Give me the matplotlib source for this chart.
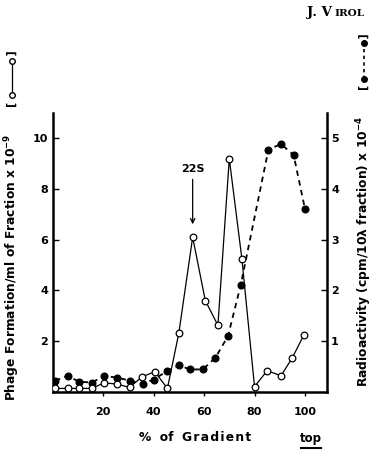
import numpy as np
import matplotlib
matplotlib.use('Agg')
import matplotlib.pyplot as plt
from matplotlib.lines import Line2D

# phage formation (open circles, left axis, x 10^-9)
x_phage = [1, 6, 10.5, 15.5, 20.5, 25.5, 30.5, 35.5, 40.5, 45.5, 50, 55.5, 60.5, 65.5, 70, 75, 80, 85, 90.5, 95, 99.5]
phage = [0.13, 0.13, 0.13, 0.13, 0.35, 0.3, 0.17, 0.59, 0.79, 0.13, 2.3, 6.1, 3.6, 2.62, 9.2, 5.24, 0.2, 0.83, 0.63, 1.35, 2.23]

# radioactivity (filled circles, right axis, x 10^-4)
x_radio = [1, 6, 10.5, 15.5, 20.5, 25.5, 30.5, 36, 40, 45.5, 50, 54.5, 59.5, 64.5, 69.5, 74.5, 85.5, 90.5, 95.5, 100]
radio = [0.22, 0.31, 0.2, 0.18, 0.31, 0.28, 0.22, 0.16, 0.24, 0.41, 0.52, 0.44, 0.44, 0.67, 1.1, 2.1, 4.78, 4.89, 4.67, 3.6]

left_ticks = [2, 4, 6, 8, 10]
right_ticks = [1, 2, 3, 4, 5]
x_ticks = [20, 40, 60, 80, 100]

fig = plt.figure(figsize=(3.73, 4.53), dpi=100)
ax = fig.add_axes([0.1408, 0.1353, 0.7359, 0.615])
ax2 = ax.twinx()

ax2.plot(x_radio, radio, color='black', ls=(0, (3, 2.5)), lw=1.3,
         marker='o', ms=4.8, mfc='black', mec='black')
ax.plot(x_phage, phage, color='black', lw=0.9,
        marker='o', ms=4.8, mfc='white', mec='black', mew=0.9, zorder=5)
ax.set_zorder(ax2.get_zorder() + 1)
ax.patch.set_visible(False)

ax.set_xlim(0, 108.7)
ax.set_ylim(0, 11)
ax2.set_ylim(0, 5.5)

for a in (ax, ax2):
    a.spines['top'].set_visible(False)
    for s in a.spines.values():
        s.set_linewidth(1.8)
ax.spines['right'].set_visible(False)
ax2.spines['left'].set_visible(False)
ax2.spines['bottom'].set_visible(False)

ax.set_xticks(x_ticks)
ax.set_yticks(left_ticks)
ax2.set_yticks(right_ticks)
ax.tick_params(axis='x', direction='out', length=3, width=1, labelsize=8, pad=8)
ax.tick_params(axis='y', direction='in', length=4, width=1, labelsize=8, pad=3)
ax2.tick_params(axis='y', direction='in', length=4, width=1, labelsize=8, pad=3)
for lab in ax.get_xticklabels() + ax.get_yticklabels() + ax2.get_yticklabels():
    lab.set_fontweight('bold')

# 22S annotation
ax.annotate('22S', xy=(55.5, 6.5), xytext=(55.5, 8.8), ha='center', va='center',
            fontsize=8, fontweight='bold',
            arrowprops=dict(arrowstyle='->', color='black', lw=0.9))

# axis labels
hs = '\u200a'
fig.text(0.523, 0.035, '%  of  ' + hs.join('Gradient'), ha='center', va='center',
         fontsize=8.8, fontweight='bold')
fig.text(0.834, 0.033, 'top', ha='center', va='center', fontsize=8.5, fontweight='bold')
fig.add_artist(Line2D([0.808, 0.86], [0.011, 0.011], color='black', lw=1.5))

fig.text(0.032, 0.41, 'Phage Formation/ml of Fraction x 10$^{\\mathbf{-9}}$',
         rotation=90, ha='center', va='center', fontsize=8.8, fontweight='bold')
fig.text(0.032, 0.826, '[            ]', rotation=90, ha='center', va='center',
         fontsize=8, fontweight='bold')
fig.add_artist(Line2D([0.032, 0.032], [0.79, 0.866], color='black', lw=0.9,
                      marker='o', ms=4, mfc='white', mec='black', markevery=[0, 1]))

fig.text(0.977, 0.445, 'Radioactivity (cpm/10\u03bb fraction) x 10$^{\\mathbf{-4}}$',
         rotation=90, ha='center', va='center', fontsize=8.8, fontweight='bold')
fig.text(0.975, 0.865, '[            ]', rotation=90, ha='center', va='center',
         fontsize=8, fontweight='bold')
fig.add_artist(Line2D([0.975, 0.975], [0.825, 0.905], color='black', lw=1.2,
                      ls=(0, (2, 2)), marker='o', ms=4, mfc='black', mec='black',
                      markevery=[0, 1]))

fig.text(0.823, 0.972, 'J. V', ha='left', va='center', fontsize=9.5,
         fontweight='bold', family='DejaVu Serif')
fig.text(0.898, 0.970, 'IROL', ha='left', va='center', fontsize=7.5,
         fontweight='bold', family='DejaVu Serif')

fig.savefig('out.png', dpi=100)
